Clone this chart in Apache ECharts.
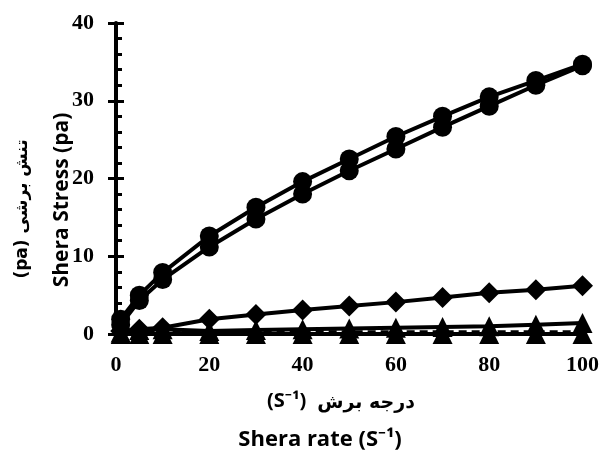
<!DOCTYPE html>
<html>
<head>
<meta charset="utf-8">
<script src="https://cdn.jsdelivr.net/npm/echarts@6/dist/echarts.min.js"></script>
<style>
  html, body { margin: 0; padding: 0; background: #fff; }
  #chart { width: 602px; height: 457px; }
</style>
</head>
<body>
<div id="chart"></div>
<script>
const shearRate = [1, 5, 10, 20, 30, 40, 50, 60, 70, 80, 90, 100]
const circleUpper = [1.9, 5.0, 7.9, 12.6, 16.3, 19.6, 22.5, 25.4, 28.0, 30.5, 32.6, 34.7]
const circleLower = [1.2, 4.3, 7.0, 11.2, 14.8, 18.0, 21.0, 23.8, 26.6, 29.3, 32.0, 34.5]
const diamond = [0.4, 0.6, 0.8, 1.9, 2.5, 3.1, 3.6, 4.1, 4.7, 5.3, 5.7, 6.2]
const triangleRise = [0.2, 0.5, 0.6, 0.4, 0.5, 0.6, 0.7, 0.8, 0.9, 1.0, 1.2, 1.4]
const triangleZero = [0, 0, 0, 0, 0, 0, 0, 0, 0, 0, 0, 0]
const dashedLine = [0.2, 0.2, 0.2, 0.2, 0.2, 0.3, 0.3, 0.3, 0.3, 0.3, 0.3, 0.3]
const xTicks = [0, 20, 40, 60, 80, 100]
const yTicks = [0, 10, 20, 30, 40]

const pair = (ys) => shearRate.map((x, i) => [x, ys[i]])

const serifBold = { fontFamily: '"Liberation Serif", serif', fontWeight: 'bold', fontSize: 22, color: '#000' }
const sansBold = '"Open Sans", "Noto Sans", "DejaVu Sans", sans-serif'

function lineSeries (name, ys, symbol, size, extra) {
  return Object.assign({
    name,
    type: 'line',
    data: pair(ys),
    symbol,
    symbolSize: size,
    clip: false,
    itemStyle: { color: '#000' },
    lineStyle: { color: '#000', width: 4 }
  }, extra || {})
}

const option = {
  animation: false,
  backgroundColor: '#fff',
  grid: { left: 116, right: 19, top: 23, bottom: 123 },
  xAxis: {
    type: 'value',
    min: xTicks[0],
    max: xTicks[xTicks.length - 1],
    interval: 20,
    axisLine: { lineStyle: { color: '#000', width: 4 } },
    axisTick: { length: 8, lineStyle: { color: '#000', width: 3 } },
    axisLabel: Object.assign({ margin: 20 }, serifBold),
    splitLine: { show: false }
  },
  yAxis: [
    {
      type: 'value',
      min: yTicks[0],
      max: yTicks[yTicks.length - 1],
      interval: 10,
      axisLine: { show: true, lineStyle: { color: '#000', width: 4 } },
      axisTick: { show: true, length: 8, lineStyle: { color: '#000', width: 3 } },
      axisLabel: Object.assign({ margin: 22 }, serifBold),
      splitLine: { show: false }
    },
    {
      type: 'value',
      position: 'left',
      min: yTicks[0],
      max: yTicks[yTicks.length - 1],
      interval: 10,
      axisLine: { show: false },
      axisTick: { show: true, inside: true, length: 8, lineStyle: { color: '#000', width: 3 } },
      minorTick: { show: true, splitNumber: 5, length: 6, lineStyle: { color: '#000', width: 3 } },
      axisLabel: { show: false },
      splitLine: { show: false }
    }
  ],
  series: [
    lineSeries('zero', triangleZero, 'triangle', 20),
    lineSeries('dashed', dashedLine, 'none', 0, { lineStyle: { color: '#000', width: 3, type: [8, 5] } }),
    lineSeries('diamond', diamond, 'diamond', 21),
    lineSeries('rise', triangleRise, 'triangle', 20),
    lineSeries('circleLower', circleLower, 'circle', 19),
    lineSeries('circleUpper', circleUpper, 'circle', 19)
  ],
  graphic: [
    {
      type: 'text',
      x: 62, y: 200, rotation: Math.PI / 2,
      style: { text: 'Shera Stress (pa)', fontFamily: sansBold, fontWeight: 'bold', fontSize: 21, fill: '#000', align: 'center', verticalAlign: 'middle' }
    },
    {
      type: 'text',
      x: 23, y: 209, rotation: Math.PI / 2,
      style: { text: '(pa) تنش برشی', fontFamily: '"DejaVu Sans", sans-serif', fontWeight: 'bold', fontSize: 17, fill: '#000', align: 'center', verticalAlign: 'middle' }
    },
    {
      type: 'text',
      x: 267, y: 401,
      style: { text: '(S⁻¹)', fontFamily: sansBold, fontWeight: 'bold', fontSize: 20, fill: '#000', align: 'left', verticalAlign: 'middle' }
    },
    {
      type: 'text',
      x: 415, y: 403,
      style: { text: 'درجه برش', fontFamily: '"DejaVu Sans", sans-serif', fontWeight: 'bold', fontSize: 19, fill: '#000', align: 'right', verticalAlign: 'middle' }
    },
    {
      type: 'text',
      x: 320, y: 440,
      style: { text: 'Shera rate (S⁻¹)', fontFamily: sansBold, fontWeight: 'bold', fontSize: 22, fill: '#000', align: 'center', verticalAlign: 'middle' }
    }
  ]
}

const myChart = echarts.init(document.getElementById('chart'))
myChart.setOption(option)
</script>
</body>
</html>
